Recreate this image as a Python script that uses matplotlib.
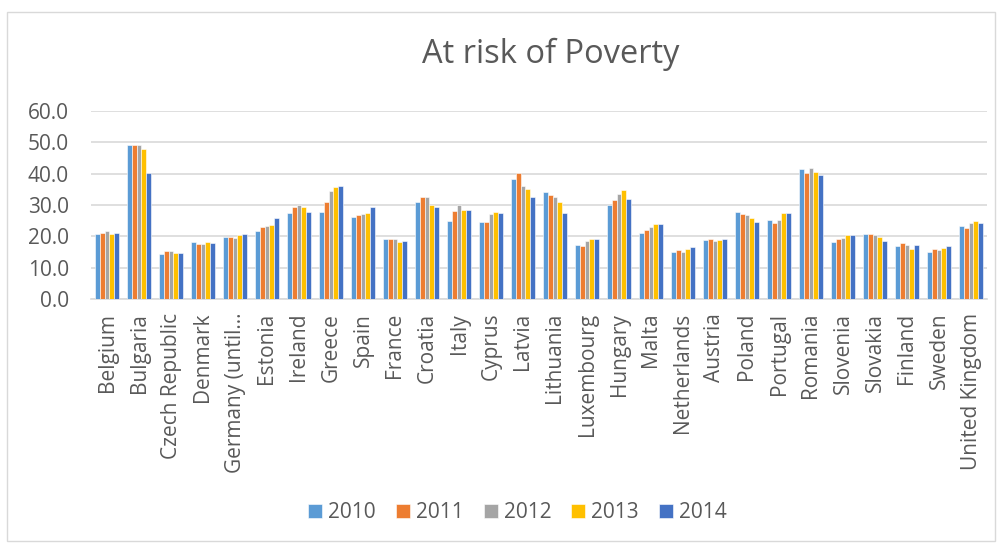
import numpy as np
import matplotlib.pyplot as plt
from matplotlib.patches import Rectangle

countries = ["Belgium", "Bulgaria", "Czech Republic", "Denmark", "Germany (until\u2026",
             "Estonia", "Ireland", "Greece", "Spain", "France", "Croatia", "Italy",
             "Cyprus", "Latvia", "Lithuania", "Luxembourg", "Hungary", "Malta",
             "Netherlands", "Austria", "Poland", "Portugal", "Romania", "Slovenia",
             "Slovakia", "Finland", "Sweden", "United Kingdom"]
years = ["2010", "2011", "2012", "2013", "2014"]

v2010 = [20.8, 49.2, 14.4, 18.3, 19.7, 21.7, 27.3, 27.7, 26.1, 19.2, 31.1, 25.0, 24.6, 38.2,
         34.0, 17.1, 29.9, 21.2, 15.1, 18.9, 27.8, 25.3, 41.5, 18.3, 20.6, 16.9, 15.0, 23.2]
v2011 = [21.0, 49.1, 15.3, 17.6, 19.9, 23.1, 29.4, 31.0, 26.7, 19.3, 32.6, 28.1, 24.6, 40.1,
         33.1, 16.8, 31.5, 22.1, 15.7, 19.2, 27.2, 24.4, 40.3, 19.3, 20.6, 17.9, 16.1, 22.7]
v2012 = [21.6, 49.3, 15.4, 17.5, 19.6, 23.4, 30.0, 34.6, 27.2, 19.1, 32.6, 29.9, 27.1, 36.2,
         32.5, 18.4, 33.5, 23.1, 15.0, 18.5, 26.7, 25.3, 41.7, 19.6, 20.5, 17.2, 15.6, 24.1]
v2013 = [20.8, 48.0, 14.6, 18.3, 20.3, 23.5, 29.5, 35.7, 27.3, 18.1, 29.9, 28.5, 27.8, 35.1,
         30.8, 19.0, 34.8, 24.0, 15.9, 18.8, 25.8, 27.5, 40.4, 20.4, 19.8, 16.0, 16.4, 24.8]
v2014 = [21.2, 40.1, 14.8, 17.8, 20.6, 26.0, 27.6, 36.0, 29.2, 18.5, 29.3, 28.3, 27.4, 32.7,
         27.3, 19.0, 31.8, 23.8, 16.5, 19.2, 24.7, 27.5, 39.7, 20.4, 18.4, 17.3, 16.9, 24.1]
series = [v2010, v2011, v2012, v2013, v2014]
colors = ["#5B9BD5", "#ED7D31", "#A5A5A5", "#FFC000", "#4472C4"]

plt.rcParams['font.family'] = ['Open Sans', 'DejaVu Sans']
txt = "#595959"

fig = plt.figure(figsize=(10, 5.44), dpi=100)
# chart border
fig.patches.append(Rectangle((0.007, 0.006), 0.988, 0.972, transform=fig.transFigure,
                             fill=False, edgecolor="#D9D9D9", linewidth=1))

ax = fig.add_axes([0.091, 0.4504, 0.896, 0.3456])
x = np.arange(len(countries))
w = 0.145
for i, (vals, c, yr) in enumerate(zip(series, colors, years)):
    ax.bar(x + (i - 2) * w, vals, width=w, color=c, label=yr,
           edgecolor="white", linewidth=0.4, zorder=3)

ax.set_xlim(-0.5, len(countries) - 0.5)
ax.set_ylim(0, 60)
ax.set_yticks(np.arange(0, 61, 10))
ax.set_yticklabels([f"{t:.1f}" for t in range(0, 61, 10)], fontsize=15, color=txt)
ax.set_xticks(x)
ax.set_xticklabels(countries, rotation=90, fontsize=15, color=txt)
ax.tick_params(axis="y", length=0, pad=16)
ax.tick_params(axis="x", length=0, pad=10)
ax.grid(axis="y", color="#D9D9D9", linewidth=1.2, zorder=0)
for s in ["top", "right", "left"]:
    ax.spines[s].set_visible(False)
ax.spines["bottom"].set_color("#D9D9D9")
ax.spines["bottom"].set_linewidth(1.2)

fig.text(0.551, 0.9, "At risk of Poverty", ha="center", va="center",
         fontsize=23.5, color=txt)

handles, labels = ax.get_legend_handles_labels()
fig.legend(handles, labels, loc="center", bbox_to_anchor=(0.5175, 0.057), ncol=5,
           frameon=False, fontsize=15, handlelength=0.67, handleheight=0.67,
           handletextpad=0.3, columnspacing=0.95, labelcolor=txt)

fig.savefig("out.png", dpi=100)
